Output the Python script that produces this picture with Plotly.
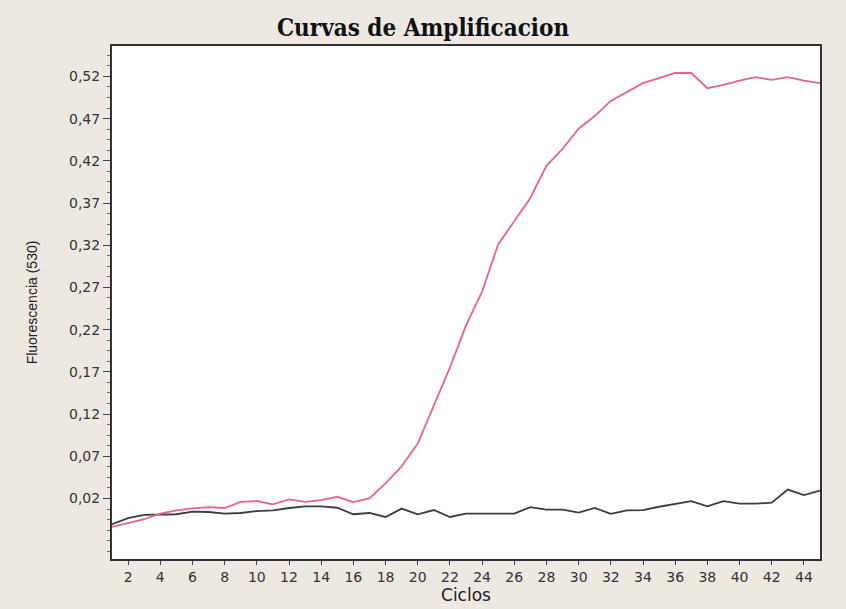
import plotly.graph_objects as go

cycles = list(range(1, 46))

pink = [-0.0136, -0.009, -0.0046, 0.002, 0.006, 0.0083, 0.0098, 0.0087, 0.016, 0.017,
        0.013, 0.019, 0.016, 0.018, 0.022, 0.0157, 0.020, 0.038, 0.058, 0.085,
        0.129, 0.175, 0.225, 0.265, 0.321, 0.348, 0.376, 0.414, 0.434, 0.458,
        0.473, 0.491, 0.502, 0.512, 0.518, 0.524, 0.524, 0.506, 0.510, 0.515,
        0.519, 0.516, 0.519, 0.515, 0.512]

black = [-0.0104, -0.0034, 0.0005, 0.0013, 0.0013, 0.0044, 0.004, 0.002, 0.0028, 0.0051,
         0.006, 0.0087, 0.0106, 0.0106, 0.009, 0.0013, 0.0028, -0.0019, 0.008, 0.0013,
         0.0063, -0.0019, 0.002, 0.002, 0.002, 0.002, 0.0098, 0.0067, 0.0067, 0.0032,
         0.0087, 0.0017, 0.006, 0.0063, 0.0102, 0.0138, 0.0169, 0.0106, 0.0169, 0.0138,
         0.0138, 0.015, 0.0305, 0.0239, 0.0294]

y_ticks = [0.02, 0.07, 0.12, 0.17, 0.22, 0.27, 0.32, 0.37, 0.42, 0.47, 0.52]
y_tick_labels = ["0,02", "0,07", "0,12", "0,17", "0,22", "0,27", "0,32", "0,37", "0,42", "0,47", "0,52"]
x_ticks = list(range(2, 45, 2))

fig = go.Figure()
fig.add_trace(go.Scatter(x=cycles, y=black, mode="lines",
                         line=dict(color="#3c3c3c", width=1.8), showlegend=False))
fig.add_trace(go.Scatter(x=cycles, y=pink, mode="lines",
                         line=dict(color="#e6648f", width=1.8), showlegend=False))

fig.update_layout(
    width=846, height=609,
    margin=dict(l=112, r=26, t=46, b=44),
    paper_bgcolor="#ede8e2",
    plot_bgcolor="#ffffff",
    title=dict(text="<b>Curvas de Amplificacion</b>", x=0.5, xanchor="center",
               y=1 - 28 / 609, yanchor="middle", yref="container",
               font=dict(family="DejaVu Serif Condensed", size=24, color="#111111")),
    font=dict(family="DejaVu Sans", color="#333333"),
)

fig.update_xaxes(
    range=[1, 45], tickvals=x_ticks, ticks="outside", ticklen=4, tickwidth=1.2,
    tickcolor="#444444", showgrid=False, zeroline=False,
    showline=True, linecolor="#333333", linewidth=2, mirror=True,
    tickfont=dict(family="DejaVu Sans", size=14, color="#333333"),
    title=dict(text="Ciclos", standoff=0,
               font=dict(family="DejaVu Sans", size=17, color="#222222")),
)
fig.update_yaxes(
    range=[-0.0517, 0.556], tickvals=y_ticks, ticktext=y_tick_labels,
    ticks="outside", ticklen=7, tickwidth=1.2, tickcolor="#444444",
    minor=dict(ticks="outside", ticklen=3, tick0=0.02, dtick=0.0125, tickcolor="#666666"),
    showgrid=False, zeroline=False,
    showline=True, linecolor="#333333", linewidth=2, mirror=True,
    tickfont=dict(family="DejaVu Sans", size=14, color="#333333"),
    title=dict(text="Fluorescencia (530)", standoff=28,
               font=dict(family="Liberation Sans", size=14, color="#222222")),
)

fig.write_html("out.html")
